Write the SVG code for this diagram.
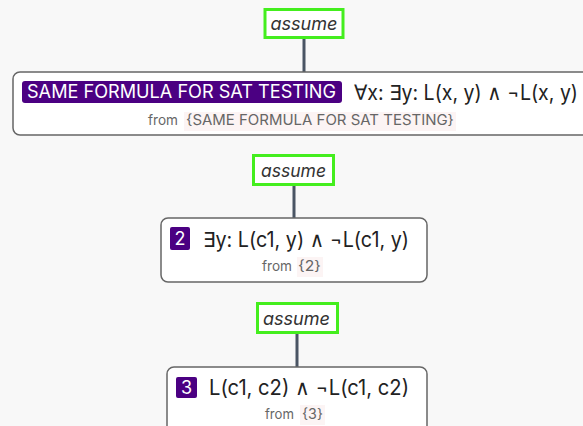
<svg xmlns="http://www.w3.org/2000/svg" width="583" height="426" viewBox="0 0 583 426">
<style>
.bg{fill:#f8f8f8}
.assume rect{fill:#ffffff;stroke:#44ee1e;stroke-width:3}
.assume text{font-family:Inter,"Noto Sans",sans-serif;font-style:italic;font-size:18px;fill:#333}
.node>rect.box{fill:#ffffff;stroke:#666;stroke-width:1.5}
.badge{fill:#4b0082}
.badgetext{font-family:Inter,"Noto Sans",sans-serif;font-size:18px;fill:#ffffff}
.formula{font-family:Inter,"Noto Sans","DejaVu Sans",sans-serif;font-size:21px;fill:#222}
.from{font-family:Inter,"Noto Sans",sans-serif;font-size:14px;fill:#666}
.srcbg{fill:#fcf4f4}
.src{font-family:Inter,"Noto Sans",sans-serif;font-size:14px;fill:#666}
.conn line{stroke:#4a5564;stroke-width:3}
</style>
<rect class="bg" x="0" y="0" width="583" height="426"/>
<g id="connectors" class="conn">
<line x1="304" y1="38" x2="304" y2="72"/>
<line x1="294" y1="185" x2="294" y2="218"/>
<line x1="297" y1="333" x2="297" y2="367"/>
</g>
<g id="assume1" class="assume">
<rect x="265" y="9.5" width="78" height="28"/>
<text x="270.5" y="30" textLength="67" lengthAdjust="spacingAndGlyphs">assume</text>
</g>
<g id="node1" class="node">
<rect class="box" x="13" y="72" width="585" height="63" rx="7"/>
<rect class="badge" x="22" y="81" width="320" height="22" rx="3"/>
<text class="badgetext" x="27" y="98" textLength="309" lengthAdjust="spacingAndGlyphs">SAME FORMULA FOR SAT TESTING</text>
<text class="formula" x="354" y="100" textLength="224" lengthAdjust="spacingAndGlyphs">∀x: ∃y: L(x, y) ∧ ¬L(x, y)</text>
<text class="from" x="148" y="125" textLength="30" lengthAdjust="spacingAndGlyphs">from</text>
<rect class="srcbg" x="184" y="112" width="272" height="19"/>
<text class="src" x="186" y="125" textLength="268" lengthAdjust="spacingAndGlyphs">{SAME FORMULA FOR SAT TESTING}</text>
</g>
<g id="assume2" class="assume">
<rect x="253.5" y="155.5" width="80" height="29"/>
<text x="261" y="177" textLength="65" lengthAdjust="spacingAndGlyphs">assume</text>
</g>
<g id="node2" class="node">
<rect class="box" x="161" y="218" width="266" height="64" rx="7"/>
<rect class="badge" x="170" y="227" width="20" height="23" rx="2"/>
<text class="badgetext" x="180" y="245" text-anchor="middle">2</text>
<text class="formula" x="203" y="247" textLength="206" lengthAdjust="spacingAndGlyphs">∃y: L(c1, y) ∧ ¬L(c1, y)</text>
<text class="from" x="262" y="271" textLength="30" lengthAdjust="spacingAndGlyphs">from</text>
<rect class="srcbg" x="297" y="257" width="26" height="20"/>
<text class="src" x="298" y="271" textLength="23" lengthAdjust="spacingAndGlyphs">{2}</text>
</g>
<g id="assume3" class="assume">
<rect x="257.5" y="303.5" width="80" height="29"/>
<text x="263" y="325" textLength="67" lengthAdjust="spacingAndGlyphs">assume</text>
</g>
<g id="node3" class="node">
<rect class="box" x="167" y="367" width="260" height="70" rx="7"/>
<rect class="badge" x="176" y="377" width="21" height="21" rx="2"/>
<text class="badgetext" x="186.5" y="394" text-anchor="middle">3</text>
<text class="formula" x="209" y="395" textLength="200" lengthAdjust="spacingAndGlyphs">L(c1, c2) ∧ ¬L(c1, c2)</text>
<text class="from" x="265" y="419" textLength="29" lengthAdjust="spacingAndGlyphs">from</text>
<rect class="srcbg" x="300" y="405" width="25" height="20"/>
<text class="src" x="302" y="419" textLength="21" lengthAdjust="spacingAndGlyphs">{3}</text>
</g>
</svg>
